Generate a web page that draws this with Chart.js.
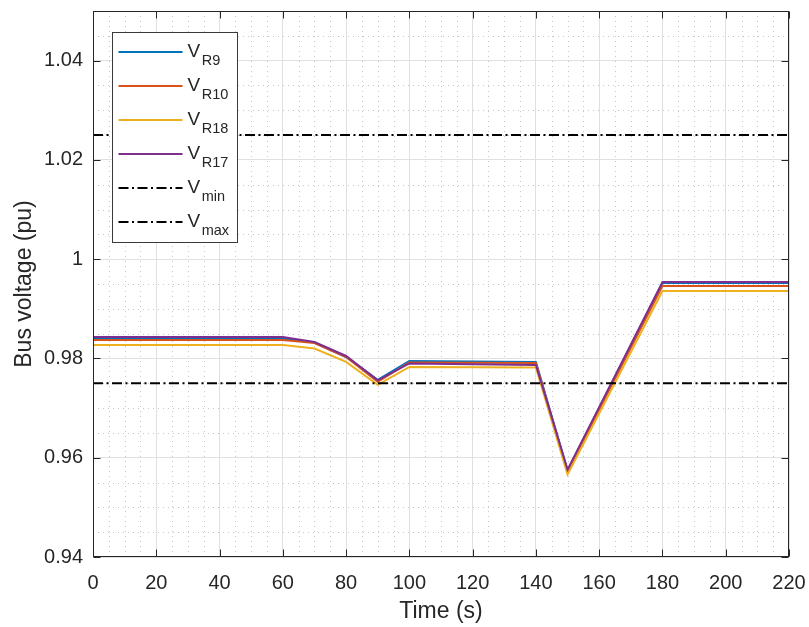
<!DOCTYPE html>
<html>
<head>
<meta charset="utf-8">
<script src="https://cdn.jsdelivr.net/npm/chart.js@4.4.1/dist/chart.umd.min.js"></script>
<style>
  html, body { margin: 0; padding: 0; background: #ffffff; }
  #wrap { width: 809px; height: 627px; }
</style>
</head>
<body>
<div id="wrap"><canvas id="c" width="809" height="627"></canvas></div>
<script>
// ---------------- data ----------------
const time = [0, 60, 70, 80, 90, 100, 140, 150, 180, 220];
const vR9  = [0.9840, 0.9840, 0.9832, 0.9803, 0.9757, 0.9795, 0.9793, 0.9574, 0.9952, 0.9952];
const vR10 = [0.9837, 0.9837, 0.9831, 0.9803, 0.9753, 0.9792, 0.9791, 0.9572, 0.9946, 0.9946];
const vR18 = [0.9827, 0.9827, 0.9820, 0.9793, 0.9747, 0.9783, 0.9782, 0.9566, 0.9936, 0.9936];
const vR17 = [0.9843, 0.9843, 0.9833, 0.9805, 0.9756, 0.9790, 0.9787, 0.9576, 0.9954, 0.9954];
const limitTime = [0, 220];
const vMin = [0.975, 0.975];
const vMax = [1.025, 1.025];
const seriesMain = 'V';
const seriesSub = ['R9', 'R10', 'R18', 'R17', 'min', 'max'];
const xTicks = [0, 20, 40, 60, 80, 100, 120, 140, 160, 180, 200, 220];
const yTicks = [0.94, 0.96, 0.98, 1.00, 1.02, 1.04];
const xTitle = 'Time (s)';
const yTitle = 'Bus voltage (pu)';

// ---------------- styling ----------------
const FONT = "'Liberation Sans', Arial, Helvetica, sans-serif";
const TXT = '#262626';
const colors = ['#0072BD', '#D95319', '#EDB120', '#7E2F8E', '#000000', '#000000'];
const dashDot = [10, 3.5, 2, 3.5];

function pts(xs, ys) { return xs.map((x, i) => ({ x: x, y: ys[i] })); }

const seriesData = [pts(time, vR9), pts(time, vR10), pts(time, vR18), pts(time, vR17),
                    pts(limitTime, vMin), pts(limitTime, vMax)];

const datasets = seriesData.map((d, i) => ({
  label: seriesMain + '_' + seriesSub[i],
  data: d,
  borderColor: colors[i],
  backgroundColor: colors[i],
  borderWidth: 2,
  borderDash: i < 4 ? [] : dashDot,
  pointRadius: 0,
  tension: 0,
  fill: false,
  order: 5 - i
}));

const matlabAxes = {
  id: 'matlabAxes',
  beforeDatasetsDraw(chart) {
    const ctx = chart.ctx, ca = chart.chartArea;
    const xs = chart.scales.x, ys = chart.scales.y;
    ctx.save();
    ctx.strokeStyle = '#c8c8c8';
    ctx.lineWidth = 1;
    ctx.setLineDash([1, 4]);
    for (let v = 5; v < 220; v += 5) {
      if (v % 20 === 0) continue;
      const px = Math.round(xs.getPixelForValue(v)) + 0.5;
      ctx.beginPath(); ctx.moveTo(px, ca.bottom); ctx.lineTo(px, ca.top); ctx.stroke();
    }
    for (let k = 0; k <= 22; k++) {
      if (k % 4 === 0) continue;
      const v = 0.94 + k * 0.005;
      const py = Math.round(ys.getPixelForValue(v)) + 0.5;
      ctx.beginPath(); ctx.moveTo(ca.left, py); ctx.lineTo(ca.right, py); ctx.stroke();
    }
    ctx.restore();
  },
  afterDatasetsDraw(chart) {
    const ctx = chart.ctx, ca = chart.chartArea;
    const xs = chart.scales.x, ys = chart.scales.y;
    ctx.save();
    // box
    ctx.strokeStyle = TXT;
    ctx.lineWidth = 1;
    ctx.setLineDash([]);
    const L = Math.round(ca.left) + 0.5, R = Math.round(ca.right) - 0.5;
    const T = Math.round(ca.top) + 0.5, B = Math.round(ca.bottom) - 0.5;
    ctx.strokeRect(L, T, R - L, B - T);
    // inward ticks
    const tl = 7;
    ctx.beginPath();
    xTicks.forEach(v => {
      const px = Math.round(xs.getPixelForValue(v)) + 0.5;
      ctx.moveTo(px, B); ctx.lineTo(px, B - tl);
      ctx.moveTo(px, T); ctx.lineTo(px, T + tl);
    });
    yTicks.forEach(v => {
      const py = Math.round(ys.getPixelForValue(v)) + 0.5;
      ctx.moveTo(L, py); ctx.lineTo(L + tl, py);
      ctx.moveTo(R, py); ctx.lineTo(R - tl, py);
    });
    ctx.stroke();

    // legend
    const lx = Math.round(ca.left) + 19.5, ly = Math.round(ca.top) + 21.5;
    const lw = 125, lh = 210;
    ctx.fillStyle = '#ffffff';
    ctx.fillRect(lx, ly, lw, lh);
    ctx.strokeStyle = '#3a3a3a';
    ctx.lineWidth = 1;
    ctx.strokeRect(lx, ly, lw, lh);
    chart.data.datasets.forEach((ds, i) => {
      const cy = ly + 19.5 + i * 34;
      ctx.strokeStyle = ds.borderColor;
      ctx.lineWidth = ds.borderWidth;
      ctx.setLineDash(ds.borderDash || []);
      ctx.beginPath(); ctx.moveTo(lx + 6, cy); ctx.lineTo(lx + 70, cy); ctx.stroke();
      ctx.setLineDash([]);
      const parts = ds.label.split('_');
      ctx.fillStyle = TXT;
      ctx.textAlign = 'left';
      ctx.textBaseline = 'alphabetic';
      ctx.font = '19px ' + FONT;
      ctx.fillText(parts[0], lx + 75, cy + 4.5);
      const w = ctx.measureText(parts[0]).width;
      ctx.font = '14.5px ' + FONT;
      ctx.fillText(parts[1], lx + 75 + w + 1.5, cy + 13);
    });
    ctx.restore();
  }
};

const fmt = v => String(parseFloat(Number(v).toFixed(3)));

new Chart(document.getElementById('c'), {
  type: 'line',
  data: { datasets: datasets },
  options: {
    responsive: false,
    animation: false,
    devicePixelRatio: 1,
    layout: { padding: { top: 11, right: 20, left: 0, bottom: 0 } },
    plugins: { legend: { display: false }, tooltip: { enabled: false } },
    scales: {
      x: {
        type: 'linear', min: 0, max: 220,
        afterBuildTicks: s => { s.ticks = xTicks.map(v => ({ value: v })); },
        afterFit: s => { s.height = 70; s.paddingLeft = 0; s.paddingRight = 0; },
        grid: { color: '#e0e0e0', lineWidth: 1, drawTicks: false },
        border: { display: false },
        ticks: { color: TXT, padding: 14, maxRotation: 0, autoSkip: false,
                 font: { family: FONT, size: 20 }, callback: fmt },
        title: { display: true, text: xTitle, color: TXT,
                 font: { family: FONT, size: 23 }, padding: { top: 0, bottom: 2 } }
      },
      y: {
        type: 'linear', min: 0.94, max: 1.05,
        afterBuildTicks: s => { s.ticks = yTicks.map(v => ({ value: v })); },
        afterFit: s => { s.width = 93; s.paddingTop = 0; s.paddingBottom = 0; },
        grid: { color: '#e0e0e0', lineWidth: 1, drawTicks: false },
        border: { display: false },
        ticks: { color: TXT, padding: 10, autoSkip: false,
                 font: { family: FONT, size: 20 }, callback: fmt },
        title: { display: true, text: yTitle, color: TXT,
                 font: { family: FONT, size: 23 }, padding: { top: 11, bottom: 0 } }
      }
    }
  },
  plugins: [matlabAxes]
});
</script>
</body>
</html>
